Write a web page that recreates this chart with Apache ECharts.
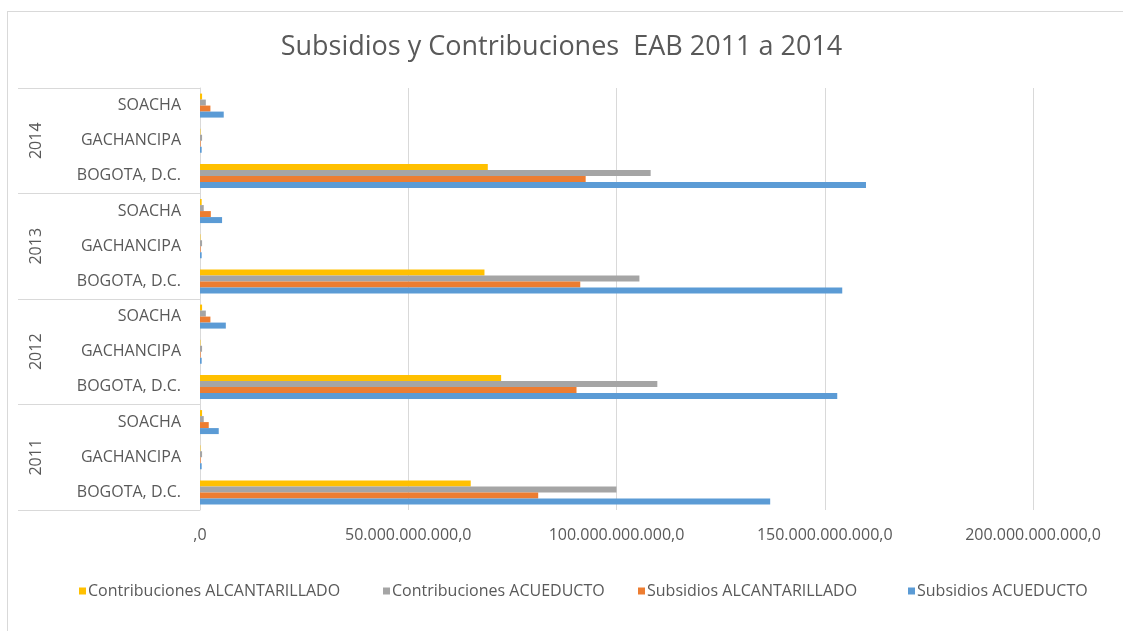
<!DOCTYPE html>
<html>
<head>
<meta charset="utf-8">
<script src="https://cdn.jsdelivr.net/npm/echarts@6/dist/echarts.min.js"></script>
<style>
html,body{margin:0;padding:0;background:#fff;}
#frame{position:absolute;left:7px;top:11px;width:1130px;height:640px;border:1px solid #d9d9d9;box-sizing:border-box;pointer-events:none;}
#chart{position:absolute;left:0;top:0;width:1123px;height:631px;}
</style>
</head>
<body>
<div id="frame"></div>
<div id="chart"></div>
<script>
// categories (bottom to top)
const years = ['2011', '2012', '2013', '2014'];
const municipios = ['BOGOTA, D.C.', 'GACHANCIPA', 'SOACHA'];
const xTicks = [0, 50, 100, 150, 200]; // miles de millones

// values in miles de millones de pesos, order: per year [BOGOTA, GACHANCIPA, SOACHA]
const subsidiosAcueducto = [136.9, 0.4, 4.5,   153.0, 0.4, 6.2,   154.2, 0.4, 5.3,   159.9, 0.4, 5.7];
const subsidiosAlcantarillado = [81.2, 0.15, 2.1,   90.4, 0.15, 2.5,   91.3, 0.15, 2.6,   92.6, 0.15, 2.5];
const contribucionesAcueducto = [100.0, 0.5, 0.9,   109.8, 0.5, 1.4,   105.5, 0.5, 0.9,   108.2, 0.5, 1.4];
const contribucionesAlcantarillado = [65.0, 0.1, 0.5,   72.3, 0.1, 0.5,   68.3, 0.1, 0.4,   69.1, 0.1, 0.5];

const UNIT = 1e9;
const cats = [];
years.forEach(y => municipios.forEach(m => cats.push(m)));

function fmt(v) {
  if (v === 0) return ',0';
  const s = Math.round(v).toString().replace(/\B(?=(\d{3})+(?!\d))/g, '.');
  return s + ',0';
}

const txt = '#595959';
const font = 'Open Sans';

// order: top bar first
const seriesDefs = [
  {name: 'Contribuciones ALCANTARILLADO', data: contribucionesAlcantarillado, color: '#FFC000'},
  {name: 'Contribuciones ACUEDUCTO', data: contribucionesAcueducto, color: '#A5A5A5'},
  {name: 'Subsidios ALCANTARILLADO', data: subsidiosAlcantarillado, color: '#ED7D31'},
  {name: 'Subsidios ACUEDUCTO', data: subsidiosAcueducto, color: '#5B9BD5'}
];
const legendLefts = [79, 383, 638, 908];

const chart = echarts.init(document.getElementById('chart'));
chart.setOption({
  animation: false,
  backgroundColor: 'transparent',
  title: {
    text: 'Subsidios y Contribuciones  EAB 2011 a 2014',
    left: 'center',
    top: 29,
    textStyle: {color: txt, fontFamily: font, fontSize: 27, fontWeight: 'normal'}
  },
  legend: seriesDefs.map((s, i) => ({
    data: [s.name],
    left: legendLefts[i],
    top: 583,
    icon: 'rect',
    itemWidth: 7,
    itemHeight: 7,
    padding: 0,
    selectedMode: false,
    textStyle: {color: txt, fontFamily: font, fontSize: 16, padding: [0, 0, 0, -3]}
  })),
  grid: {left: 200, right: 90, top: 88, bottom: 121, containLabel: false},
  xAxis: {
    type: 'value',
    min: 0,
    max: xTicks[xTicks.length - 1] * UNIT,
    interval: (xTicks[1] - xTicks[0]) * UNIT,
    axisLine: {show: false},
    axisTick: {show: false},
    splitLine: {show: true, lineStyle: {color: '#d9d9d9', width: 1}},
    axisLabel: {color: txt, fontFamily: font, fontSize: 16, margin: 17, formatter: fmt}
  },
  yAxis: [
    {
      type: 'category',
      data: cats,
      position: 'left',
      axisLine: {show: false},
      axisTick: {show: false},
      axisLabel: {color: txt, fontFamily: font, fontSize: 16, margin: 19}
    },
    {
      type: 'category',
      data: years,
      position: 'left',
      axisLine: {show: true, lineStyle: {color: '#d9d9d9'}},
      axisTick: {show: true, length: 182, lineStyle: {color: '#d9d9d9'}},
      axisLabel: {color: txt, fontFamily: font, fontSize: 16, rotate: 90, margin: 156}
    }
  ],
  series: seriesDefs.map(s => ({
    name: s.name,
    type: 'bar',
    yAxisIndex: 0,
    barWidth: 6,
    barGap: '0%',
    itemStyle: {color: s.color},
    data: s.data.map(v => v * UNIT)
  }))
});
</script>
</body>
</html>
